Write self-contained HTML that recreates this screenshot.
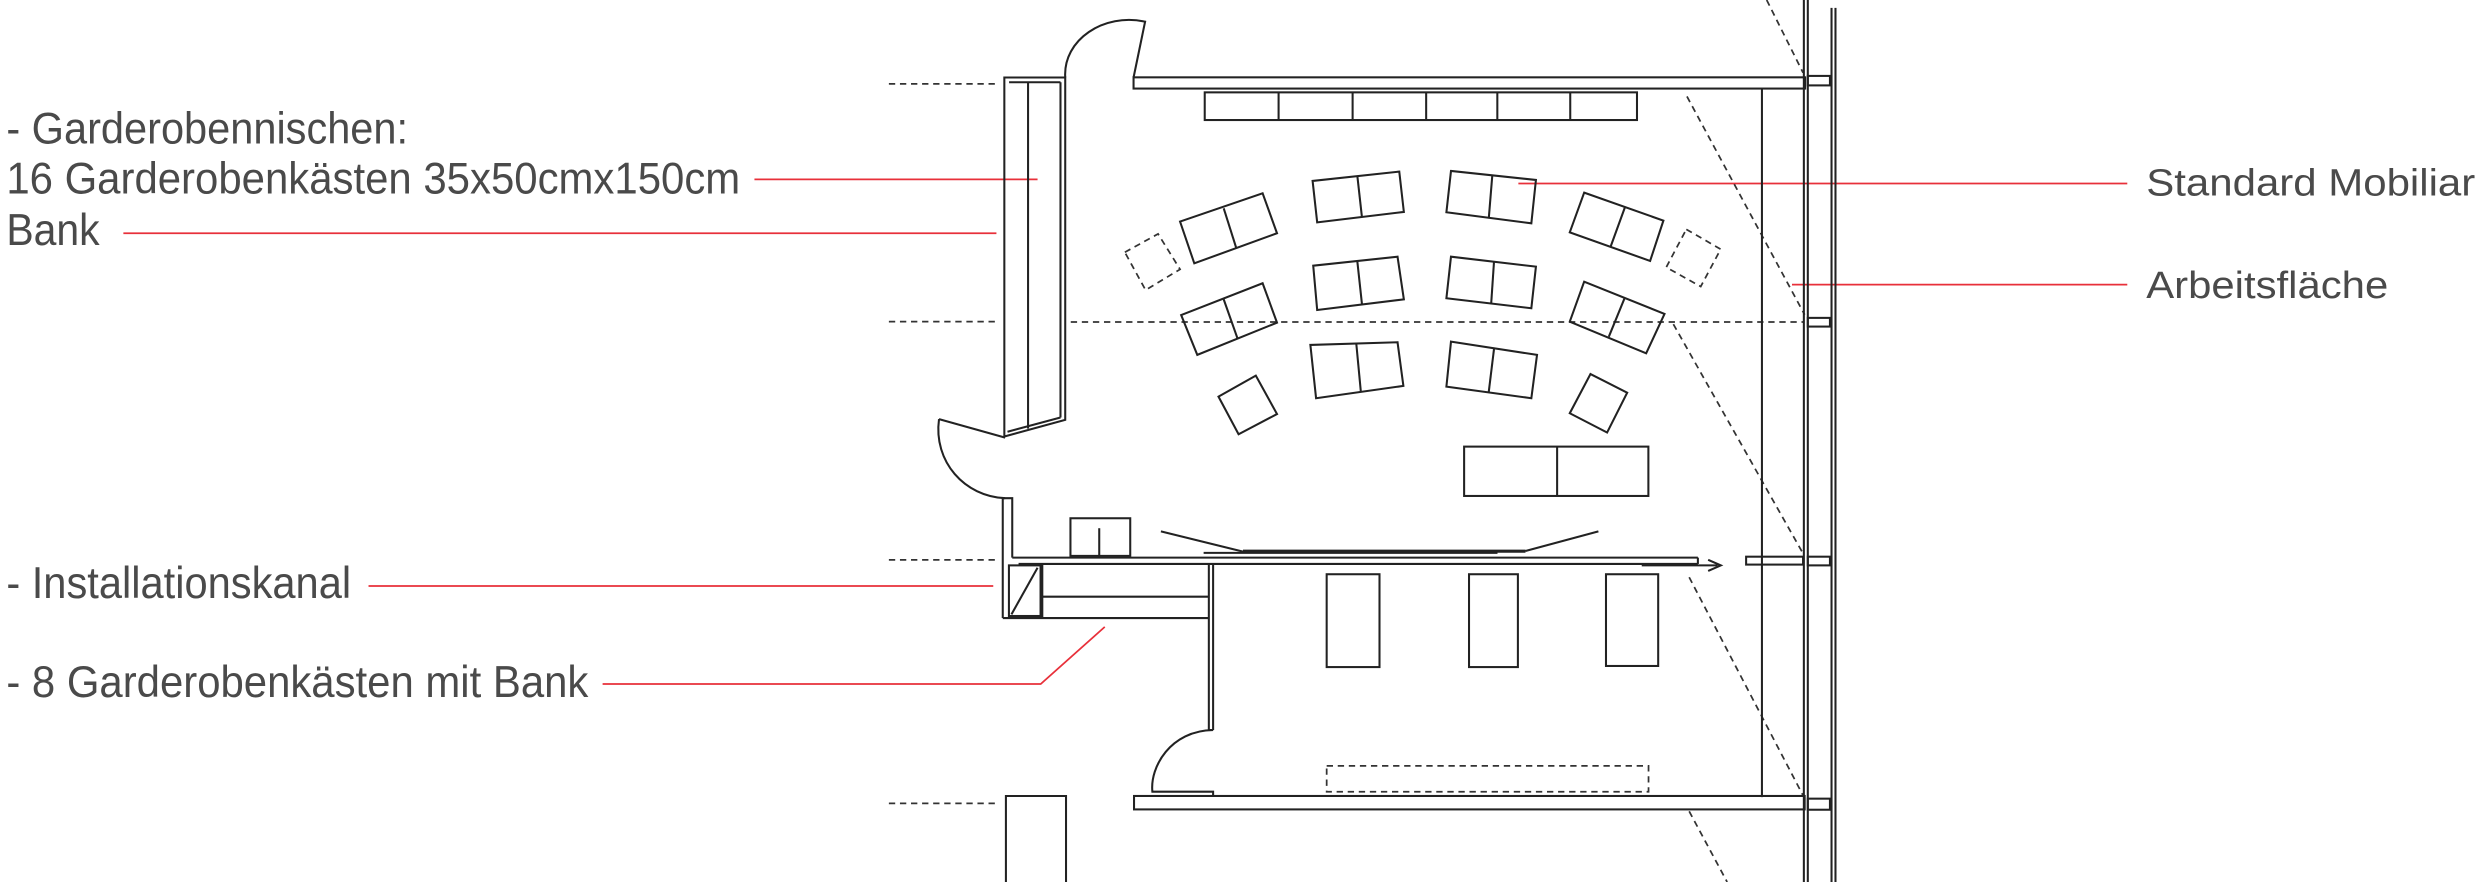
<!DOCTYPE html>
<html><head><meta charset="utf-8"><style>
html,body{margin:0;padding:0;background:#fff;}
svg{display:block;}
</style></head><body>
<svg width="2480" height="882" viewBox="0 0 1568 557.7" preserveAspectRatio="none" xmlns="http://www.w3.org/2000/svg">
<rect width="1568" height="557.7" fill="#fff"/>
<g font-family="Liberation Sans, Arial, sans-serif" fill="#4a4a4a">
<text x="4" y="90.6" font-size="28" textLength="254" lengthAdjust="spacingAndGlyphs">- Garderobennischen:</text>
<text x="4" y="122.2" font-size="28" textLength="464" lengthAdjust="spacingAndGlyphs">16 Garderobenkästen 35x50cmx150cm</text>
<text x="4" y="155" font-size="28" textLength="59" lengthAdjust="spacingAndGlyphs">Bank</text>
<text x="4" y="378" font-size="28" textLength="218" lengthAdjust="spacingAndGlyphs">- Installationskanal</text>
<text x="4" y="440.7" font-size="28" textLength="368" lengthAdjust="spacingAndGlyphs">- 8 Garderobenkästen mit Bank</text>
<text x="1357" y="123.5" font-size="24" textLength="208" lengthAdjust="spacingAndGlyphs">Standard Mobiliar</text>
<text x="1357" y="188.5" font-size="24" textLength="153" lengthAdjust="spacingAndGlyphs">Arbeitsfläche</text>
</g>
<g stroke="#e8303a" stroke-width="1.1" fill="none">
<line x1="477" y1="113.4" x2="656" y2="113.4"/>
<line x1="78" y1="147.5" x2="630" y2="147.5"/>
<line x1="960" y1="116" x2="1345" y2="116"/>
<line x1="1133" y1="180" x2="1345" y2="180"/>
<line x1="233" y1="370.5" x2="628" y2="370.5"/>
<polyline points="381,432.5 658,432.5 698.5,396.4"/>
</g>
<g stroke="#333" stroke-width="1.1" fill="none" stroke-dasharray="4,3">
<line x1="562" y1="53" x2="630" y2="53"/>
<line x1="562" y1="203.4" x2="630" y2="203.4"/>
<line x1="677" y1="203.6" x2="1140" y2="203.6"/>
<line x1="562" y1="354" x2="630" y2="354"/>
<line x1="562" y1="508" x2="632" y2="508"/>
<line x1="1117" y1="0" x2="1140" y2="46"/>
<line x1="1066.6" y1="61" x2="1141" y2="199"/>
<line x1="1058" y1="205" x2="1140" y2="350"/>
<line x1="1068" y1="365" x2="1140" y2="503"/>
<line x1="1068" y1="513" x2="1092" y2="557.7"/>
<polygon points="711.2,159.5 732.2,147.9 746.1,170.3 724.3,183.4"/>
<polygon points="1066.2,145 1087.9,157.6 1075.3,181.2 1053.5,169"/>
<rect x="838.8" y="484.3" width="203.5" height="16.3"/>
</g>
<g stroke="#222" stroke-width="1.3" fill="none">
<line x1="1114" y1="56" x2="1114" y2="504"/>
<line x1="1140.5" y1="0" x2="1140.5" y2="557.7"/>
<line x1="1143" y1="0" x2="1143" y2="557.7"/>
<line x1="1158" y1="5" x2="1158" y2="557.7"/>
<line x1="1160.5" y1="5" x2="1160.5" y2="557.7"/>
<rect x="1143" y="48" width="14" height="6"/>
<rect x="1143" y="201" width="14" height="5.5"/>
<rect x="1143" y="352" width="14" height="5.5"/>
<rect x="1143" y="505" width="14" height="7"/>
<rect x="1104" y="352" width="36" height="5"/>
<rect x="716.7" y="48.9" width="424.6" height="7.1"/>
<path d="M673.5,49 C672,25 698,8 724,13.7 L716.7,49"/>
<rect x="761.7" y="58.4" width="273.3" height="17.5"/>
<line x1="808.4" y1="58.4" x2="808.4" y2="75.9"/>
<line x1="855.2" y1="58.4" x2="855.2" y2="75.9"/>
<line x1="901.7" y1="58.4" x2="901.7" y2="75.9"/>
<line x1="946.7" y1="58.4" x2="946.7" y2="75.9"/>
<line x1="992.8" y1="58.4" x2="992.8" y2="75.9"/>
<polygon points="635,49 673.5,49 673.5,265.5 635,276"/>
<line x1="638" y1="52" x2="670.5" y2="52"/>
<line x1="670.5" y1="52" x2="670.5" y2="264"/>
<line x1="650" y1="52" x2="650" y2="271"/>
<line x1="637" y1="273" x2="670.5" y2="264"/>
<path d="M593.7,265 L635.5,276.7 M593.7,265 C590,292 610,314 635.5,315"/>
<polyline points="634,315 640,315 640,352.6"/>
<line x1="634" y1="315" x2="634" y2="390.8"/>
<line x1="640" y1="352.6" x2="1073.5" y2="352.6"/>
<line x1="644" y1="356.6" x2="1073.5" y2="356.6"/>
<line x1="1073.5" y1="352.6" x2="1073.5" y2="356.6"/>
<rect x="637.9" y="357.5" width="20" height="32"/>
<line x1="639.5" y1="388.5" x2="656" y2="359"/>
<line x1="659" y1="357" x2="659" y2="390.8"/>
<line x1="659" y1="377.3" x2="764" y2="377.3"/>
<line x1="634" y1="390.8" x2="764.3" y2="390.8"/>
<line x1="764.3" y1="357" x2="764.3" y2="461.6"/>
<line x1="767" y1="357" x2="767" y2="461.6"/>
<line x1="764.3" y1="461.6" x2="767" y2="461.6"/>
<path d="M767,461.6 C740,462 727,485 728.6,500.6 L767,500.6 L767,503.3"/>
<rect x="676.8" y="327.7" width="37.8" height="23.8"/>
<line x1="695" y1="334" x2="695" y2="352"/>
<line x1="734" y1="336" x2="785.9" y2="348.8"/>
<line x1="761" y1="349.6" x2="946.8" y2="349.6"/>
<line x1="785.9" y1="348.5" x2="964.5" y2="348.5" stroke-width="2"/>
<line x1="964.5" y1="348.4" x2="1010.6" y2="336"/>
<line x1="1038" y1="357.5" x2="1086" y2="357.5"/>
<path d="M1080,354 L1088,357.5 L1080,361" />
<rect x="838.8" y="363.1" width="33.4" height="58.7"/>
<rect x="928.8" y="363.1" width="30.9" height="58.7"/>
<rect x="1015.4" y="363.1" width="33" height="58"/>
<rect x="717" y="503.3" width="424" height="8.5"/>
<polyline points="636,557.7 636,503.3 674,503.3 674,557.7"/>
<rect x="925.7" y="282.4" width="116.5" height="31.2"/>
<line x1="984.5" y1="282.4" x2="984.5" y2="313.6"/>
<polygon points="746.1,140.1 798.3,122.2 807.4,147.5 755.1,166.5"/>
<line x1="773.7" y1="131.7" x2="781.7" y2="157"/>
<polygon points="829.9,114.4 884.7,108.5 887.6,134 832.8,140.6"/>
<line x1="858.2" y1="111.3" x2="861.1" y2="137.4"/>
<polygon points="917.4,108.1 971.1,113.8 968.2,141.2 914.5,134.2"/>
<line x1="943.5" y1="111.1" x2="941.3" y2="138"/>
<polygon points="1001.6,121.8 1051.7,139.5 1043.3,165 992.5,146.9"/>
<line x1="1027.3" y1="131.3" x2="1018.3" y2="156"/>
<polygon points="746.8,199.2 798.3,179.1 807.4,204 757,224.4"/>
<line x1="773.7" y1="189.3" x2="782.4" y2="213.9"/>
<polygon points="830.3,168 883.6,162.3 887.6,189.3 832.8,196"/>
<line x1="858.2" y1="165.4" x2="861.1" y2="192.2"/>
<polygon points="917.4,162.3 971.1,168.6 968.2,194.9 914.5,188.6"/>
<line x1="944.6" y1="165.4" x2="942.8" y2="192.2"/>
<polygon points="1001.6,178.1 1052.4,198.5 1040.8,223.4 992.5,203.4"/>
<line x1="1027.3" y1="188.2" x2="1017.2" y2="212.9"/>
<polygon points="770.4,250.8 794,237.5 807.4,261.8 783.1,274.6"/>
<polygon points="828.5,218.1 883.6,216.4 887.3,244 832.1,251.8"/>
<line x1="857.5" y1="217" x2="860.4" y2="247.6"/>
<polygon points="917.4,216 971.8,224.4 968.2,251.8 914.5,244.5"/>
<line x1="944.6" y1="220.7" x2="941.3" y2="247.6"/>
<polygon points="1005.6,236.5 1028.8,248.3 1016.1,273.5 992.5,261.3"/>
</g>
</svg>
</body></html>
